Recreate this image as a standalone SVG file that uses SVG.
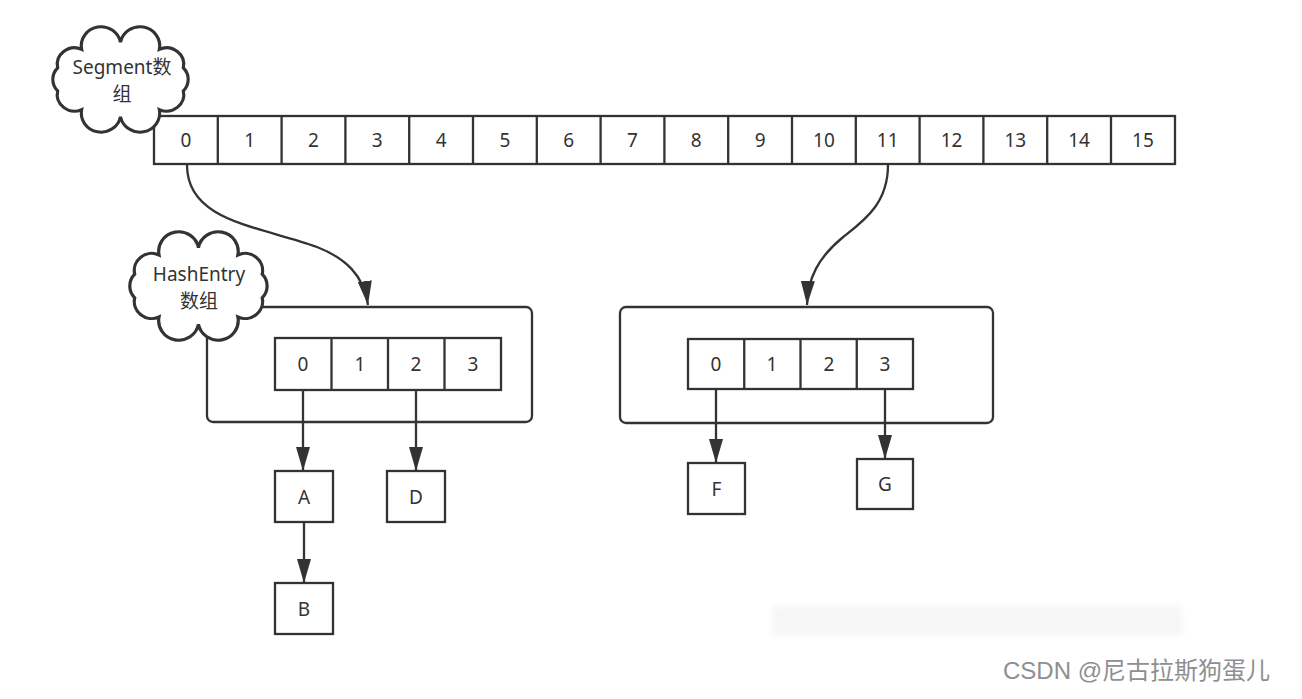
<svg xmlns="http://www.w3.org/2000/svg" width="1302" height="699" viewBox="0 0 1302 699">
<style>
.box{fill:#fff;stroke:#333;stroke-width:2.3}
.cont{fill:#fff;stroke:#333;stroke-width:2.3}
.cloud{fill:#fff;stroke:#333;stroke-width:2.2;vector-effect:non-scaling-stroke}
.t{font-family:"Noto Sans","Noto Sans CJK SC",sans-serif;font-size:19px;fill:#333;text-anchor:middle;dominant-baseline:central}
.line{fill:none;stroke:#333;stroke-width:2.3}
.wm{font-family:"Liberation Sans","Noto Sans CJK SC",sans-serif;font-size:24px;fill:#8f8f8f}
</style>
<defs>
<marker id="arr" markerUnits="userSpaceOnUse" markerWidth="24" markerHeight="14" viewBox="0 0 24 14" refX="24" refY="7" orient="auto">
<path d="M0,0 L24,7 L0,14 z" fill="#333"/>
</marker>
<path id="cloudShape" d="M50,12 A12,12 0 0 1 77.05,17.16 A12,12 0 0 1 93.75,30.66 A12,12 0 0 1 93.75,47.34 A12,12 0 0 1 77.05,60.84 A12,12 0 0 1 50,66 A12,12 0 0 1 22.95,60.84 A12,12 0 0 1 6.25,47.34 A12,12 0 0 1 6.25,30.66 A12,12 0 0 1 22.95,17.16 A12,12 0 0 1 50,12 Z"/>
<filter id="blur"><feGaussianBlur stdDeviation="3"/></filter>
</defs>
<rect width="1302" height="699" fill="#fff"/>

<g id="segment-array">
<rect class="box" x="154" y="116" width="1021" height="48"/>
<path class="line" d="M217.8,116V164M281.6,116V164M345.4,116V164M409.2,116V164M473,116V164M536.8,116V164M600.6,116V164M664.4,116V164M728.2,116V164M792,116V164M855.8,116V164M919.6,116V164M983.4,116V164M1047.2,116V164M1111,116V164"/>
<text class="t" x="185.9" y="140">0</text>
<text class="t" x="249.7" y="140">1</text>
<text class="t" x="313.5" y="140">2</text>
<text class="t" x="377.3" y="140">3</text>
<text class="t" x="441.1" y="140">4</text>
<text class="t" x="504.9" y="140">5</text>
<text class="t" x="568.7" y="140">6</text>
<text class="t" x="632.5" y="140">7</text>
<text class="t" x="696.3" y="140">8</text>
<text class="t" x="760.1" y="140">9</text>
<text class="t" x="823.9" y="140">10</text>
<text class="t" x="887.7" y="140">11</text>
<text class="t" x="951.5" y="140">12</text>
<text class="t" x="1015.3" y="140">13</text>
<text class="t" x="1079.1" y="140">14</text>
<text class="t" x="1142.9" y="140">15</text>
</g>

<g id="segment-cloud">
<use href="#cloudShape" class="cloud" transform="translate(48.7,25.6) scale(1.436,1.38)"/>
<text class="t" x="122" y="67">Segment数</text>
<text class="t" x="122" y="94">组</text>
</g>

<g id="hash-left">
<rect class="cont" x="207" y="307" width="325" height="115" rx="6"/>
<rect class="box" x="275" y="338" width="226" height="52"/>
<path class="line" d="M331.5,338V390M388,338V390M444.5,338V390"/>
<text class="t" x="303" y="364">0</text>
<text class="t" x="360" y="364">1</text>
<text class="t" x="416" y="364">2</text>
<text class="t" x="473" y="364">3</text>
</g>

<g id="hash-cloud">
<use href="#cloudShape" class="cloud" transform="translate(125.6,230.6) scale(1.457,1.42)"/>
<text class="t" x="199" y="274">HashEntry</text>
<text class="t" x="199" y="301">数组</text>
</g>

<g id="hash-right">
<rect class="cont" x="620" y="307" width="373" height="116" rx="6"/>
<rect class="box" x="688" y="339" width="225" height="50"/>
<path class="line" d="M744.25,339V389M800.5,339V389M856.75,339V389"/>
<text class="t" x="716" y="364">0</text>
<text class="t" x="772" y="364">1</text>
<text class="t" x="829" y="364">2</text>
<text class="t" x="885" y="364">3</text>
</g>

<g id="node-A"><rect class="box" x="275" y="471" width="58" height="51"/><text class="t" x="304" y="496.5">A</text></g>
<g id="node-B"><rect class="box" x="275" y="583" width="58" height="51"/><text class="t" x="304" y="608.5">B</text></g>
<g id="node-D"><rect class="box" x="387" y="471" width="58" height="51"/><text class="t" x="416" y="496.5">D</text></g>
<g id="node-F"><rect class="box" x="688" y="463" width="57" height="51"/><text class="t" x="716.5" y="488.5">F</text></g>
<g id="node-G"><rect class="box" x="857" y="459" width="56" height="50"/><text class="t" x="885" y="484">G</text></g>

<g id="connectors">
<path class="line" d="M187,165 C187,222 260,226 317,247 C345,258 364,275 368,305" marker-end="url(#arr)"/>
<path class="line" d="M888,165 C888,205 862,222 842,238 C818,258 808,278 807,305" marker-end="url(#arr)"/>
<path class="line" d="M303,390 V471" marker-end="url(#arr)"/>
<path class="line" d="M416,390 V471" marker-end="url(#arr)"/>
<path class="line" d="M304,522 V583" marker-end="url(#arr)"/>
<path class="line" d="M716,389 V463" marker-end="url(#arr)"/>
<path class="line" d="M885,389 V459" marker-end="url(#arr)"/>
</g>

<rect x="772" y="606" width="410" height="30" fill="#f6f6f6" filter="url(#blur)"/>
<text class="wm" x="1270" y="679" text-anchor="end">CSDN @尼古拉斯狗蛋儿</text>
</svg>
